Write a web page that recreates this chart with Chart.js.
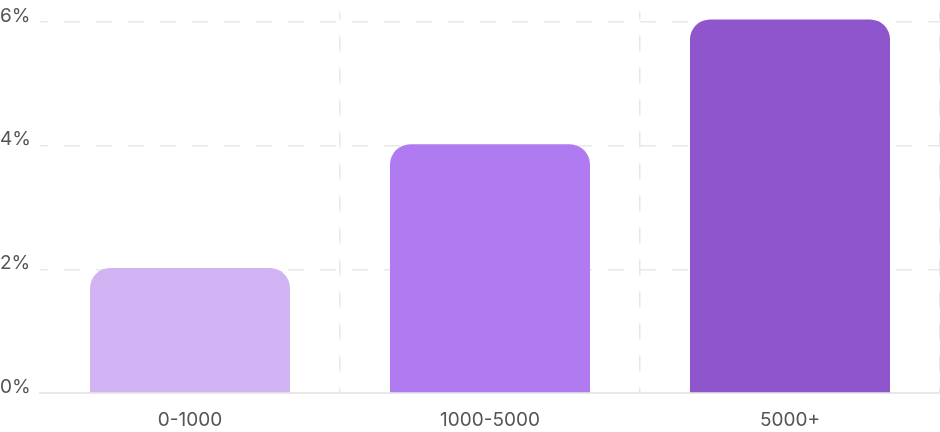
<!DOCTYPE html>
<html><head><meta charset="UTF-8">
<script src="https://cdn.jsdelivr.net/npm/chart.js"></script>
<style>html,body{margin:0;padding:0;background:#fff}
.wrap{width:940px;height:432px}</style>
</head><body>
<div class="wrap"><canvas id="c"></canvas></div>
<script>
// valores
const categories = ['0-1000', '1000-5000', '5000+'];
const values = [2.02, 4.02, 6.04];
const barColors = ['#D1B3F4', '#B07BF0', '#8E55CC'];
const yTicks = [0, 2, 4, 6];

const grid = '#e8e8e8';
const edge = c => c.index === 0 || c.index >= categories.length;

new Chart(document.getElementById('c'), {
  type: 'bar',
  data: {
    labels: categories,
    datasets: [{
      data: values,
      backgroundColor: barColors,
      borderRadius: { topLeft: 20, topRight: 20, bottomLeft: 0, bottomRight: 0 },
      borderSkipped: 'bottom',
      categoryPercentage: 1,
      barPercentage: 2 / 3
    }]
  },
  options: {
    responsive: true,
    maintainAspectRatio: false,
    animation: false,
    layout: { padding: { top: 10, bottom: 0, left: 0, right: 0 } },
    plugins: { legend: { display: false }, tooltip: { enabled: false } },
    scales: {
      x: {
        afterFit: s => { s.height = 39; },
        grid: {
          // só as linhas entre categorias, não as das bordas
          color: c => edge(c) ? 'rgba(0,0,0,0)' : grid,
          lineWidth: c => edge(c) ? 0 : 1.5,
          drawTicks: false, offset: true
        },
        border: { display: true, color: grid, width: 2, dash: [16, 16], dashOffset: 8 },
        ticks: {
          color: '#555', padding: 16,
          font: { family: 'Inter', size: 19 }
        }
      },
      y: {
        min: 0,
        max: 6.17,
        afterBuildTicks: s => { s.ticks = yTicks.map(v => ({ value: v })); },
        afterFit: s => { s.width = 40; },
        grid: { color: grid, lineWidth: 1.5, drawTicks: false },
        border: { display: false, dash: [16, 16], dashOffset: 8 },
        ticks: {
          color: '#555', padding: 0, crossAlign: 'far', labelOffset: -6,
          font: { family: 'Inter', size: 19 },
          callback: v => v + '%'
        }
      }
    }
  }
});
</script>
</body></html>
